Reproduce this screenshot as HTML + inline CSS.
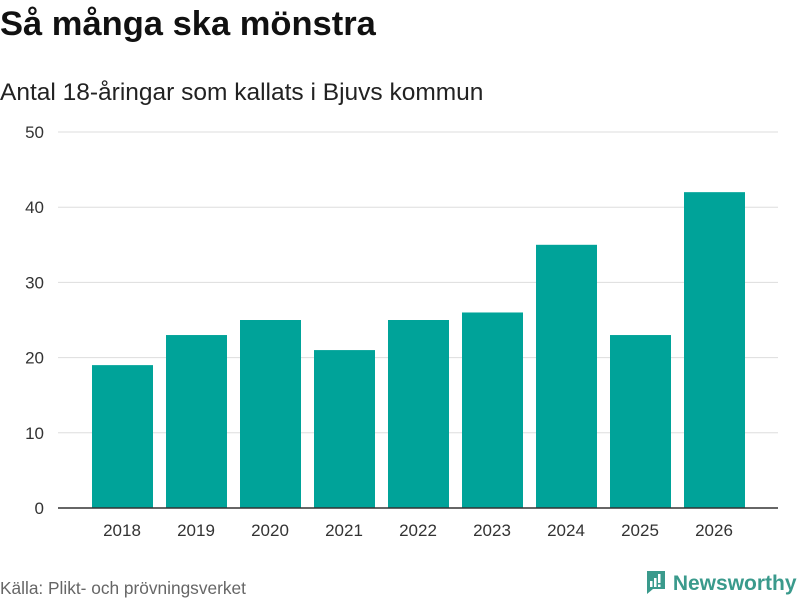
<!DOCTYPE html>
<html><head><meta charset="utf-8"><style>
body{margin:0;width:800px;height:600px;background:#fff;font-family:"Liberation Sans","DejaVu Sans",sans-serif;overflow:hidden;position:relative}
.t{position:absolute;left:0;white-space:nowrap}
</style></head><body>
<div class="t" style="top:5px;font-size:34.5px;font-weight:bold;color:#111">Så många ska mönstra</div>
<div class="t" style="top:79px;font-size:24.5px;color:#222">Antal 18-åringar som kallats i Bjuvs kommun</div>
<svg id="c" width="800" height="600" style="position:absolute;left:0;top:0"></svg>
<div class="t" style="top:578px;font-size:17.3px;color:#666">Källa: Plikt- och prövningsverket</div>
<div class="t" style="left:645px;top:569px;font-size:21px;font-weight:bold;color:#3a9a8c">
<svg width="22" height="26" style="vertical-align:-5px" viewBox="0 0 22 26"><path d="M2 2h18v18h-12l-6 5z" fill="#3a9a8c"/><rect x="5" y="12" width="2.5" height="6" fill="#fff"/><rect x="9" y="9" width="2.5" height="9" fill="#fff"/><rect x="13" y="5" width="2.5" height="9" fill="#fff"/><rect x="13" y="15.5" width="2.5" height="2.5" fill="#fff"/></svg> Newsworthy</div>
<script>
const categories=["2018","2019","2020","2021","2022","2023","2024","2025","2026"];
const values=[19,23,25,21,25,26,35,23,42];
const yTicks=[0,10,20,30,40,50];
const ns="http://www.w3.org/2000/svg";
const svg=document.getElementById('c');
const y=v=>508-v*7.52;
const x=i=>85+i*74;
function el(t,a){const e=document.createElementNS(ns,t);for(const k in a)e.setAttribute(k,a[k]);svg.appendChild(e);return e;}
yTicks.forEach(v=>{
  if(v>0){const g=el('line',{x1:58,x2:778,y1:y(v),y2:y(v),stroke:'#ddd'});
  
  }
  const t=el('text',{x:44,y:y(v)+6,'text-anchor':'end','font-size':17,fill:'#333','font-family':'Liberation Sans, sans-serif'});
  t.textContent=v;
  
  
});
values.forEach((v,i)=>{
  const r=el('rect',{x:x(i)+7,y:y(v),width:61,height:508-y(v),fill:'#00a399'});
  
  
  const t=el('text',{x:x(i)+37,y:536,'text-anchor':'middle','font-size':17,fill:'#333','font-family':'Liberation Sans, sans-serif'});
  t.textContent=categories[i];
  
  
});
const a=el('line',{x1:58,x2:778,y1:508,y2:508,stroke:'#333','stroke-width':1.5});


</script>
</body></html>
